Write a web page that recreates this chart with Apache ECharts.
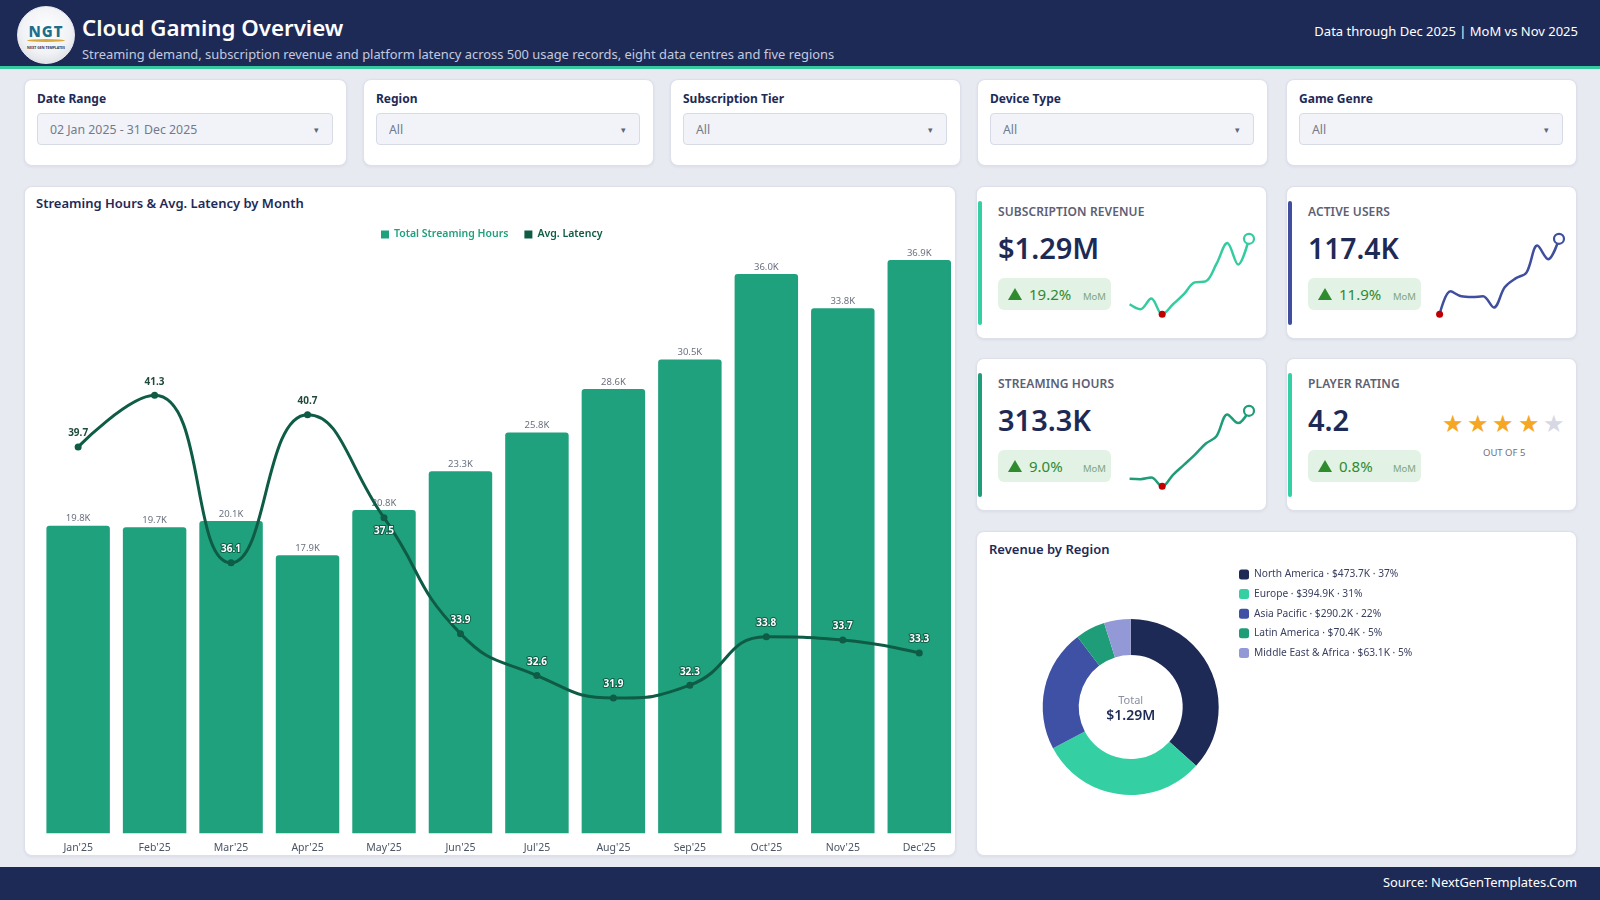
<!DOCTYPE html>
<html><head><meta charset="utf-8">
<script src="https://cdn.jsdelivr.net/npm/echarts@6/dist/echarts.min.js"></script>
<style>
*{box-sizing:border-box;margin:0;padding:0}
body{width:1600px;height:900px;overflow:hidden;background:#e8eaf1;font-family:"Noto Sans",sans-serif;position:relative;color:#1e2a56}
.a{position:absolute;white-space:nowrap}
.card{position:absolute;background:#fff;border:1px solid #dde0ea;border-radius:8px;box-shadow:0 1px 3px rgba(30,42,86,.07)}
.flabel{position:absolute;left:12px;top:11px;font-size:12px;font-weight:700;color:#1e2a56;line-height:16px}
.sel{position:absolute;left:12px;right:13px;top:33px;height:32px;background:#f1f3f8;border:1px solid #d7dbe6;border-radius:4px;font-size:12.3px;color:#737a8c;line-height:31px;padding-left:12px}
.sel:after{content:"\25BE";position:absolute;right:13px;top:0;font-size:9px;color:#606677}
.acc{position:absolute;left:1px;top:14px;width:4px;height:124px;border-radius:2px}
.klabel{position:absolute;left:21px;top:17px;font-size:12px;font-weight:600;color:#5b6075;line-height:16px;letter-spacing:.1px}
.kval{position:absolute;left:21px;top:42px;font-size:29px;font-weight:600;color:#1e2a56;line-height:38px}
.badge{position:absolute;left:21px;top:91px;width:113px;height:32px;background:#e2f2e4;border-radius:6px}
.tri{position:absolute;left:10px;top:10px;width:0;height:0;border-left:7px solid transparent;border-right:7px solid transparent;border-bottom:12px solid #2e8b2e}
.pct{position:absolute;left:31px;top:6px;font-size:15px;color:#2f8a32;line-height:20px}
.mom{position:absolute;left:85px;top:12px;font-size:9.5px;color:#7ea67e;line-height:14px}
.spark{position:absolute;left:142px;top:42px;width:142px;height:96px}
.ctitle{position:absolute;font-size:13px;font-weight:600;color:#1e2a56;line-height:18px}
</style></head>
<body>
<div class="a" style="left:0;top:0;width:1600px;height:66px;background:#1e2a56"></div>
<div class="a" style="left:0;top:66px;width:1600px;height:3px;background:#35c9a0"></div>
<div class="a" style="left:17px;top:6px;width:58px;height:58px;border-radius:50%;background:radial-gradient(circle at 50% 40%,#ffffff 0%,#f1f2f5 55%,#cfd3db 100%);border:1px solid #e6e8ee"></div>
<div class="a" style="left:17px;top:22px;width:58px;text-align:center;font-size:15px;font-weight:800;color:#1d6e8c;letter-spacing:1px;line-height:18px">NGT</div>
<div class="a" style="left:27px;top:39px;width:38px;height:3px;border-radius:50%;background:#d6a93a"></div>
<div class="a" style="left:17px;top:45px;width:58px;text-align:center;font-size:3.5px;font-weight:700;color:#334;line-height:5px">NEXT GEN TEMPLATES</div>
<div class="a" style="left:82px;top:12px;font-size:22.3px;font-weight:600;color:#fff;line-height:31px">Cloud Gaming Overview</div>
<div class="a" style="left:82px;top:45px;font-size:12.9px;color:#c3c9de;line-height:18px">Streaming demand, subscription revenue and platform latency across 500 usage records, eight data centres and five regions</div>
<div class="a" style="right:22px;top:21px;font-size:13px;color:#fff;line-height:20px">Data through Dec 2025 | MoM vs Nov 2025</div>

<div class="card" style="left:24px;top:79px;width:323px;height:87px"><div class="flabel">Date Range</div><div class="sel">02 Jan 2025 - 31 Dec 2025</div></div>
<div class="card" style="left:363px;top:79px;width:291px;height:87px"><div class="flabel">Region</div><div class="sel">All</div></div>
<div class="card" style="left:670px;top:79px;width:291px;height:87px"><div class="flabel">Subscription Tier</div><div class="sel">All</div></div>
<div class="card" style="left:977px;top:79px;width:291px;height:87px"><div class="flabel">Device Type</div><div class="sel">All</div></div>
<div class="card" style="left:1286px;top:79px;width:291px;height:87px"><div class="flabel">Game Genre</div><div class="sel">All</div></div>

<div class="card" style="left:24px;top:186px;width:932px;height:670px"><div class="ctitle" style="left:11px;top:7px">Streaming Hours &amp; Avg. Latency by Month</div></div>
<div id="main" class="a" style="left:24px;top:186px;width:940px;height:670px"></div>

<div class="card" style="left:976px;top:186px;width:291px;height:153px">
 <div class="acc" style="background:#34d0a4"></div><div class="klabel">SUBSCRIPTION REVENUE</div><div class="kval" id="kv0"></div>
 <div class="badge"><div class="tri"></div><div class="pct" id="kp0"></div><div class="mom">MoM</div></div>
 <div class="spark" id="sp0"></div></div>
<div class="card" style="left:1286px;top:186px;width:291px;height:153px">
 <div class="acc" style="background:#3f4f9e"></div><div class="klabel">ACTIVE USERS</div><div class="kval" id="kv1" style="font-size:28.3px"></div>
 <div class="badge"><div class="tri"></div><div class="pct" id="kp1"></div><div class="mom">MoM</div></div>
 <div class="spark" id="sp1"></div></div>
<div class="card" style="left:976px;top:358px;width:291px;height:153px">
 <div class="acc" style="background:#1f9c78"></div><div class="klabel">STREAMING HOURS</div><div class="kval" id="kv2"></div>
 <div class="badge"><div class="tri"></div><div class="pct" id="kp2"></div><div class="mom">MoM</div></div>
 <div class="spark" id="sp2"></div></div>
<div class="card" style="left:1286px;top:358px;width:291px;height:153px">
 <div class="acc" style="background:#34d0a4"></div><div class="klabel">PLAYER RATING</div><div class="kval" id="kv3"></div>
 <div class="badge"><div class="tri"></div><div class="pct" id="kp3"></div><div class="mom">MoM</div></div>
 <div id="stars" class="a" style="left:153px;top:49px;height:30px"></div>
 <div class="a" style="left:196px;top:87px;width:42px;text-align:center;font-size:9.5px;color:#6b7280;line-height:14px">OUT OF 5</div>
</div>

<div class="card" style="left:976px;top:531px;width:601px;height:325px"><div class="ctitle" style="left:12px;top:8px">Revenue by Region</div></div>
<div id="donut" class="a" style="left:976px;top:531px;width:601px;height:325px"></div>

<div class="a" style="left:0;top:867px;width:1600px;height:33px;background:#1e2a56"></div>
<div class="a" style="right:23px;top:871px;font-size:12.9px;color:#fff;line-height:22px">Source: NextGenTemplates.Com</div>

<script>
// ---------- data ----------
const months = ["Jan'25","Feb'25","Mar'25","Apr'25","May'25","Jun'25","Jul'25","Aug'25","Sep'25","Oct'25","Nov'25","Dec'25"];
const streamingHoursK = [19.8,19.7,20.1,17.9,20.8,23.3,25.8,28.6,30.5,36.0,33.8,36.9];
const avgLatency = [39.7,41.3,36.1,40.7,37.5,33.9,32.6,31.9,32.3,33.8,33.7,33.3];
const revenueMonthlyK = [88.0,83.4,93.3,78.7,88.0,97.4,108.3,109.2,125.4,144.7,124.8,148.7];
const activeUsersK = [7.65,9.17,8.84,8.79,8.84,8.10,9.44,10.03,10.41,12.20,11.30,12.65];
const kpiValues = ['$1.29M','117.4K','313.3K','4.2'];
const kpiMoM = [19.2,11.9,9.0,0.8];
const playerRating = 4.2;
const regions = ['North America','Europe','Asia Pacific','Latin America','Middle East & Africa'];
const regionRevenueK = [473.7,394.9,290.2,70.4,63.1];

// ---------- styles ----------
const FONT = 'Noto Sans';
const barColor = '#20a17d', lineColor = '#0e5c45';
const regionColors = ['#1e2a56','#34d0a4','#3f51a5','#1f9c78','#9399d6'];
const barMax = 40, latMin = 27.7, latMax = 47;
const latencyLabelBelow = {4:true};

// KPI text
kpiValues.forEach((v,i)=>{document.getElementById('kv'+i).textContent=v;document.getElementById('kp'+i).textContent=kpiMoM[i].toFixed(1)+'%';});
let sh='';
for(let i=0;i<5;i++){sh+='<span style="display:inline-block;width:25.4px;text-align:center;font-size:24px;line-height:30px;color:'+(i<Math.round(playerRating)?'#f5a623':'#d6d9e4')+'">\u2605</span>';}
document.getElementById('stars').innerHTML=sh;

// ---------- main chart ----------
const main = echarts.init(document.getElementById('main'));
const latData = avgLatency.map((v,i)=>{
  const inside = (v-latMin)/(latMax-latMin) < streamingHoursK[i]/barMax;
  return {value:v,label:{position: latencyLabelBelow[i]?'bottom':'top',
    color: inside?'#ffffff':'#1f4a3c', textBorderColor: inside?lineColor:'transparent', textBorderWidth: inside?2:0}};
});
main.setOption({
  animation:false,
  textStyle:{fontFamily:FONT},
  legend:{left:352,top:38,itemWidth:8,itemHeight:8,itemGap:16,icon:'rect',
    data:[{name:'Total Streaming Hours',textStyle:{color:barColor}},{name:'Avg. Latency',textStyle:{color:lineColor}}],
    textStyle:{fontSize:10.5,fontWeight:600,fontFamily:FONT}},
  grid:{left:15.9,right:6.5,top:25.8,bottom:22.7},
  xAxis:{type:'category',data:months,axisLine:{show:false},axisTick:{show:false},
    axisLabel:{color:'#4b5563',fontSize:10.5,margin:9,fontFamily:FONT}},
  yAxis:[{type:'value',min:0,max:barMax,show:false,splitLine:{show:false}},
         {type:'value',min:latMin,max:latMax,show:false,splitLine:{show:false}}],
  series:[
    {name:'Total Streaming Hours',type:'bar',data:streamingHoursK,barCategoryGap:'17%',
     itemStyle:{color:barColor,borderRadius:[3,3,0,0]},
     label:{show:true,position:'top',distance:2,color:'#6b7280',fontSize:9.5,fontFamily:FONT,formatter:p=>p.value.toFixed(1)+'K'}},
    {name:'Avg. Latency',type:'line',yAxisIndex:1,data:latData,smooth:0.5,symbol:'circle',symbolSize:7,z:5,
     lineStyle:{width:3,color:lineColor},itemStyle:{color:lineColor},
     label:{show:true,fontSize:10,fontWeight:700,fontFamily:FONT,distance:5,formatter:p=>p.value.toFixed(1)}}
  ]
});

// ---------- sparklines ----------
function spark(id, data, color){
  const c = echarts.init(document.getElementById(id));
  let mi = 0; data.forEach((v,i)=>{ if(v<data[mi]) mi=i; });
  const last = data.length-1;
  const d = data.map((v,i)=>{
    if(i===mi) return {value:v,symbol:'circle',symbolSize:7,itemStyle:{color:'#c00000',borderWidth:0}};
    if(i===last) return {value:v,symbol:'circle',symbolSize:10,itemStyle:{color:'#ffffff',borderColor:color,borderWidth:2.2}};
    return {value:v,symbol:'none'};
  });
  c.setOption({animation:false,
    grid:{left:10.6,top:9.8,width:119.4,height:75.5},
    xAxis:{type:'category',show:false,boundaryGap:false,data:months},
    yAxis:{type:'value',show:false,min:'dataMin',max:'dataMax'},
    series:[{type:'line',data:d,smooth:0.35,symbol:'none',showSymbol:true,showAllSymbol:true,
      lineStyle:{width:2.5,color:color},z:3}]});
}
spark('sp0', revenueMonthlyK, '#34cc9f');
spark('sp1', activeUsersK, '#3f4f9e');
spark('sp2', streamingHoursK, '#1f9c78');

// ---------- donut ----------
const total = regionRevenueK.reduce((a,b)=>a+b,0);
const donut = echarts.init(document.getElementById('donut'));
donut.setOption({
  animation:false,
  textStyle:{fontFamily:FONT},
  color:regionColors,
  legend:{orient:'vertical',left:258,top:33.5,itemWidth:10,itemHeight:10,itemGap:9.6,icon:'roundRect',
    textStyle:{fontSize:10.2,color:'#3b4060',fontFamily:FONT},
    formatter:n=>{const i=regions.indexOf(n);const v=regionRevenueK[i];return n+' \u00b7 $'+v.toFixed(1)+'K \u00b7 '+Math.round(v/total*100)+'%';}},
  graphic:[
    {type:'text',x:154.7,y:170,style:{text:'Total',align:'center',verticalAlign:'middle',fontSize:11,fill:'#8a8fa3',fontFamily:FONT}},
    {type:'text',x:154.7,y:185.5,style:{text:'$'+(total/1000).toFixed(2)+'M',align:'center',verticalAlign:'middle',fontSize:14,fontWeight:600,fill:'#1e2a56',fontFamily:FONT}}
  ],
  series:[{type:'pie',radius:[52,88],center:[154.7,176],startAngle:90,label:{show:false},labelLine:{show:false},
    data:regions.map((n,i)=>({name:n,value:regionRevenueK[i]}))}]
});
</script>
</body></html>
